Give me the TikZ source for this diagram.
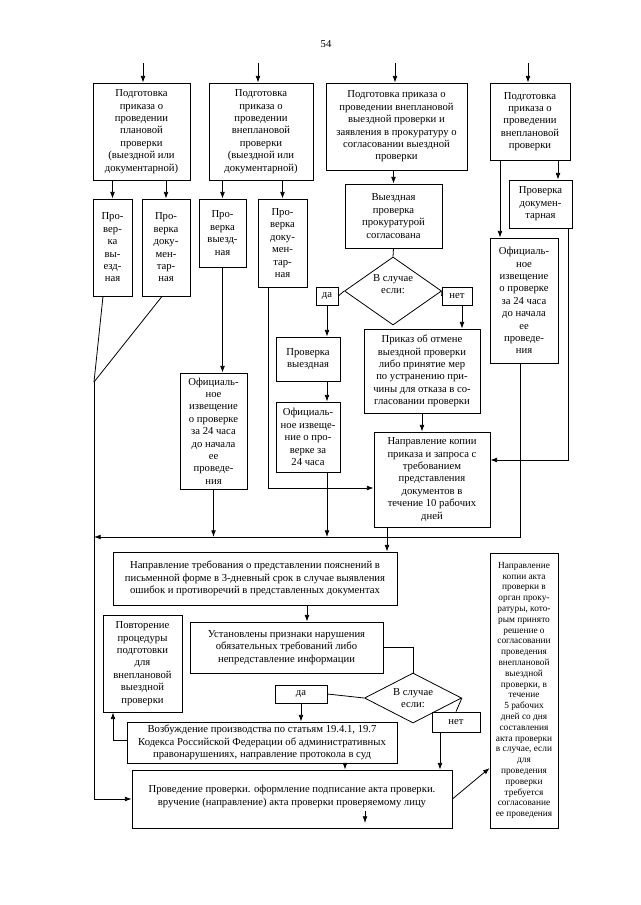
\documentclass[tikz,border=0pt]{standalone}
\usepackage{fontspec}
\setmainfont{Liberation Serif}
\usetikzlibrary{arrows.meta,shapes.geometric}
\newcommand\fsmain{\fontsize{8}{9.3}\selectfont}
\newcommand\fssmall{\fontsize{7}{8.1}\selectfont}
\newcommand\bxn[7][]{%
  \pgfmathsetmacro\bxw{(#5-#3)*0.75}\pgfmathsetmacro\bxh{(#6-#4)*0.75}%
  \pgfmathsetmacro\bxcx{(#3+#5)/2}\pgfmathsetmacro\bxcy{(#4+#6)/2}%
  \node[box,#1,minimum width=\bxw pt,minimum height=\bxh pt] (#2) at (\bxcx,\bxcy) {#7};}
\begin{document}
\begin{tikzpicture}[x=0.75pt,y=-0.75pt,
  box/.style={draw,line width=0.6pt,inner sep=0pt,align=center,font=\fsmain},
  dia/.style={draw,diamond,line width=0.6pt,inner sep=0pt},
  lbl/.style={align=center,font=\fsmain,inner sep=0pt},
  ln/.style={line width=0.6pt},
  arr/.style={line width=0.6pt,-{Latex[length=5pt,width=3.6pt]}}]
\fill[white] (0,0) rectangle (640,905);
\useasboundingbox (0,0) rectangle (640,905);

\node[lbl] (pg) at (326,44) {54};

% top row
\bxn{a1}{93}{83}{190}{180}{Подготовка\\приказа о\\проведении\\плановой\\проверки\\(выездной или\\документарной)}
\bxn{a2}{209}{83}{313}{180}{Подготовка\\приказа о\\проведении\\внеплановой\\проверки\\(выездной или\\документарной)}
\bxn{a3}{326}{83}{467}{170}{Подготовка приказа о\\проведении внеплановой\\выездной проверки и\\заявления в прокуратуру о\\согласовании выездной\\проверки}
\bxn{a4}{490}{83}{570}{160}{Подготовка\\приказа о\\проведении\\внеплановой\\проверки}

% second row
\bxn{a1a}{93}{199}{132}{296}{Про-\\вер-\\ка\\вы-\\езд-\\ная}
\bxn{a1b}{142}{199}{190}{296}{Про-\\верка\\доку-\\мен-\\тар-\\ная}
\bxn{a2a}{199}{199}{246}{267}{Про-\\верка\\выезд-\\ная}
\bxn{a2b}{258}{199}{307}{287}{Про-\\верка\\доку-\\мен-\\тар-\\ная}
\bxn{s}{345}{184}{442}{248}{Выездная\\проверка\\прокуратурой\\согласована}
\bxn{a4a}{509}{180}{572}{228}{Проверка\\докумен-\\тарная}
\bxn{a4b}{490}{238}{558}{363}{Официаль-\\ное\\извещение\\о проверке\\за 24 часа\\до начала\\ее\\проведе-\\ния}

% first decision
\node[dia,minimum width=72.75pt,minimum height=51pt] (d1) at (393,291) {};
\node[lbl] (d1t) at (393,284) {В случае\\если:};
\bxn{da1}{316}{287}{338}{305}{да}
\bxn{net1}{442}{287}{472}{305}{нет}

\bxn{v}{276}{337}{340}{381}{Проверка\\выездная}
\bxn{o2}{276}{402}{340}{472}{Официаль-\\ное извеще-\\ние о про-\\верке за\\24 часа}
\bxn{p}{364}{329}{480}{413}{Приказ об отмене\\выездной проверки\\либо принятие мер\\по устранению при-\\чины для отказа в со-\\гласовании проверки}
\bxn{n}{374}{432}{490}{527}{Направление копии\\приказа и запроса с\\требованием\\представления\\документов в\\течение 10 рабочих\\дней}
\bxn{a2c}{180}{373}{247}{489}{Официаль-\\ное\\извещение\\о проверке\\за 24 часа\\до начала\\ее\\проведе-\\ния}

% lower part
\bxn{t}{113}{552}{397}{605}{Направление требования о представлении пояснений в\\письменной форме в 3-дневный срок в случае выявления\\ошибок и противоречий в представленных документах}
\bxn{u}{190}{622}{383}{673}{Установлены признаки нарушения\\обязательных требований либо\\непредставление информации}
\node[dia,minimum width=72.75pt,minimum height=37.5pt] (d2) at (413,698) {};
\node[lbl] (d2t) at (413,698) {В случае\\если:};
\bxn{da2}{275}{685}{327}{703}{да}
\bxn{net2}{432}{712}{480}{732}{нет}
\bxn{r}{103}{615}{182}{712}{Повторение\\процедуры\\подготовки\\для\\внеплановой\\выездной\\проверки}
\bxn{b}{127}{722}{397}{763}{Возбуждение производства по статьям 19.4.1, 19.7\\Кодекса Российской Федерации об административных\\правонарушениях, направление протокола в суд}
\bxn{c}{132}{770}{452}{828}{Проведение проверки. оформление подписание акта проверки.\\вручение (направление) акта проверки проверяемому лицу\\[-4pt]\mbox{}}
\bxn[font=\fssmall]{k}{490}{553}{558}{828}{Направление\\копии акта\\проверки в\\орган проку-\\ратуры, кото-\\рым принято\\решение о\\согласовании\\проведения\\внеплановой\\выездной\\проверки, в\\течение\\5 рабочих\\дней со дня\\составления\\акта проверки\\в случае, если\\для\\проведения\\проверки\\требуется\\согласование\\ее проведения}

% connectors: top arrows
\coordinate (t1) at (143,63);
\coordinate (t2) at (258,63);
\coordinate (t3) at (395,63);
\coordinate (t4) at (528,63);
\draw[arr] (t1) -- (t1 |- a1.north);
\draw[arr] (t2) -- (t2 |- a2.north);
\draw[arr] (t3) -- (t3 |- a3.north);
\draw[arr] (t4) -- (t4 |- a4.north);

% column 1
\draw[arr] (a1.south -| a1a.north) -- (a1a.north);
\draw[arr] (a1.south -| a1b.north) -- (a1b.north);
\coordinate (vT) at (94,382);
\coordinate (vB) at (94,799);
\draw[ln] (a1a.south -| 103,0) -- (vT);
\draw[ln] (a1b.south -| 162,0) -- (vT);
\draw[arr] (vT) -- (vB) -- (vB -| c.west);

% horizontal collector
\coordinate (hL) at (94,537);
\coordinate (hR) at (520,537);
\draw[arr] (a4b.south -| hR) -- (hR) -- (hL);

% column 2
\draw[arr] (a2.south -| a2a.north) -- (a2a.north);
\draw[arr] (a2.south -| a2b.north) -- (a2b.north);
\draw[arr] (a2a.south) -- (a2a.south |- a2c.north);
\draw[arr] (a2c.south) -- (a2c.south |- hL);
\coordinate (m1) at (268,488);
\draw[arr] (a2b.south -| m1) -- (m1) -- (m1 -| n.west);

% column 3
\draw[arr] (a3.south -| s.north) -- (s.north);
\draw[ln] (s.south) -- (d1.north);
\draw[ln] (d1.west) -- (da1.east);
\draw[ln] (d1.east) -- (net1.west);
\draw[arr] (da1.south) -- (da1.south |- v.north);
\draw[arr] (v.south -| da1.south) -- (da1.south |- o2.north);
\draw[arr] (o2.south -| da1.south) -- (da1.south |- hL);
\draw[arr] (net1.south -| 462,0) -- (p.north -| 462,0);
\draw[arr] (p.south) -- (p.south |- n.north);
\coordinate (m2) at (387,0);
\draw[arr] (n.south -| m2) -- (t.north -| m2);

% column 4
\draw[arr] (a4.south -| 558,0) -- (a4a.north -| 558,0);
\draw[arr] (a4.south -| 500,0) -- (a4b.north -| 500,0);
\coordinate (m3) at (568,460);
\draw[arr] (a4a.south -| m3) -- (m3) -- (m3 -| n.east);

% lower part
\draw[arr] (t.south -| 307,0) -- (u.north -| 307,0);
\draw[ln] (u.east) -- (u.east -| d2.north) -- (d2.north);
\draw[ln] (d2.west) -- (da2.east);
\draw[ln] (d2.east) -- (net2.north);
\draw[arr] (da2.south) -- (da2.south |- b.north);
\coordinate (m4) at (113,740);
\draw[arr] (b.west |- m4) -- (m4) -- (m4 |- r.south);
\draw[arr] (b.south -| 345,0) -- (c.north -| 345,0);
\draw[arr] (net2.south -| 440,0) -- (c.north -| 440,0);
\draw[arr] (c.east) -- (k.west |- 0,768);
\coordinate (m7) at (365,811);
\coordinate (m8) at (365,823);
\draw[arr] (m7) -- (m8);
\end{tikzpicture}
\end{document}
